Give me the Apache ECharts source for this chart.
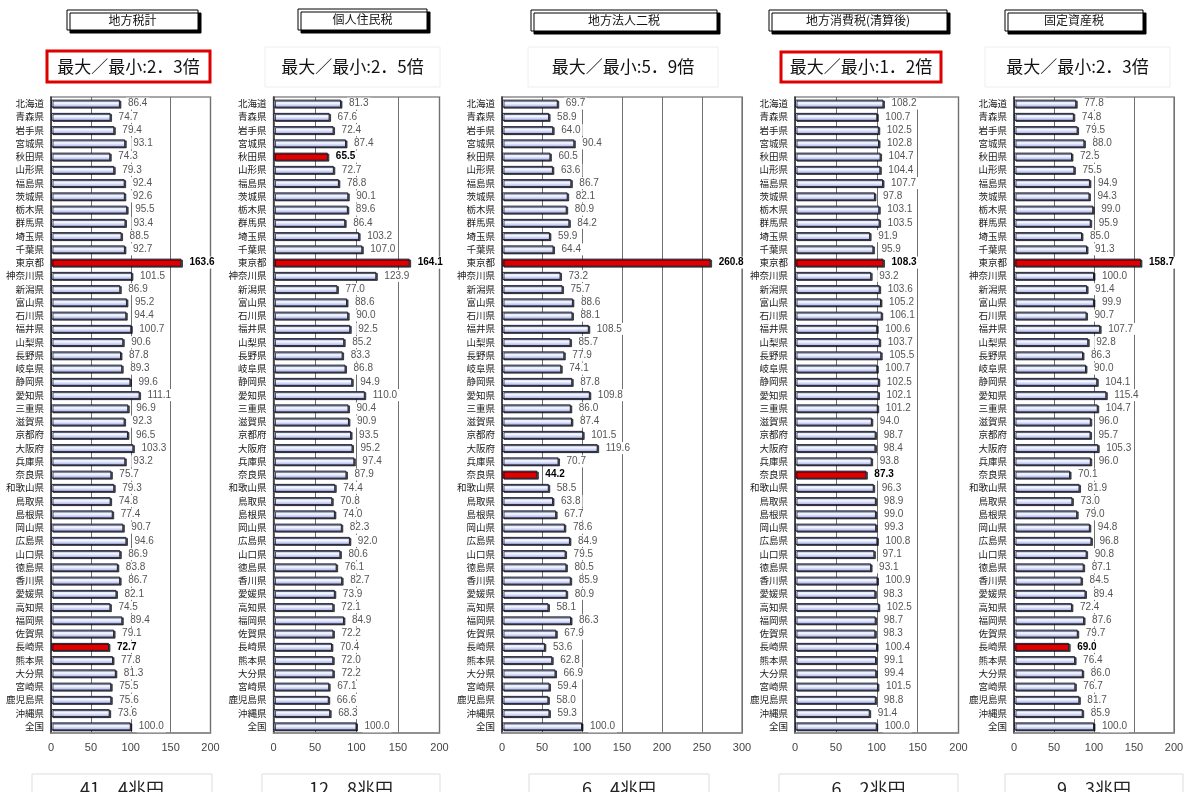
<!DOCTYPE html>
<html>
<head>
<meta charset="utf-8">
<script src="https://cdn.jsdelivr.net/npm/echarts@6/dist/echarts.min.js"></script>
<style>
  html, body { margin: 0; padding: 0; background: #fff; }
  #chart { width: 1191px; height: 792px; }
</style>
</head>
<body>
<div id="chart"></div>
<script>
// 都道府県（47）＋全国
const prefectures = [
  '北海道','青森県','岩手県','宮城県','秋田県','山形県','福島県','茨城県','栃木県','群馬県',
  '埼玉県','千葉県','東京都','神奈川県','新潟県','富山県','石川県','福井県','山梨県','長野県',
  '岐阜県','静岡県','愛知県','三重県','滋賀県','京都府','大阪府','兵庫県','奈良県','和歌山県',
  '鳥取県','島根県','岡山県','広島県','山口県','徳島県','香川県','愛媛県','高知県','福岡県',
  '佐賀県','長崎県','熊本県','大分県','宮崎県','鹿児島県','沖縄県','全国'
];

const panelTitles = ['地方税計', '個人住民税', '地方法人二税', '地方消費税(清算後)', '固定資産税'];
const totalsTrillionYen = ['41.4', '12.8', '6.4', '6.2', '9.3'];
const axisMaxValues = [200, 200, 300, 200, 200];
const tickStep = 50;

// 人口一人当たり税収額の指数（全国＝100）
const localTaxTotal = [
  86.4, 74.7, 79.4, 93.1, 74.3, 79.3, 92.4, 92.6, 95.5, 93.4,
  88.5, 92.7, 163.6, 101.5, 86.9, 95.2, 94.4, 100.7, 90.6, 87.8,
  89.3, 99.6, 111.1, 96.9, 92.3, 96.5, 103.3, 93.2, 75.7, 79.3,
  74.8, 77.4, 90.7, 94.6, 86.9, 83.8, 86.7, 82.1, 74.5, 89.4,
  79.1, 72.7, 77.8, 81.3, 75.5, 75.6, 73.6, 100.0
];
const individualInhabitantTax = [
  81.3, 67.6, 72.4, 87.4, 65.5, 72.7, 78.8, 90.1, 89.6, 86.4,
  103.2, 107.0, 164.1, 123.9, 77.0, 88.6, 90.0, 92.5, 85.2, 83.3,
  86.8, 94.9, 110.0, 90.4, 90.9, 93.5, 95.2, 97.4, 87.9, 74.4,
  70.8, 74.0, 82.3, 92.0, 80.6, 76.1, 82.7, 73.9, 72.1, 84.9,
  72.2, 70.4, 72.0, 72.2, 67.1, 66.6, 68.3, 100.0
];
const corporateTwoTaxes = [
  69.7, 58.9, 64.0, 90.4, 60.5, 63.6, 86.7, 82.1, 80.9, 84.2,
  59.9, 64.4, 260.8, 73.2, 75.7, 88.6, 88.1, 108.5, 85.7, 77.9,
  74.1, 87.8, 109.8, 86.0, 87.4, 101.5, 119.6, 70.7, 44.2, 58.5,
  63.8, 67.7, 78.6, 84.9, 79.5, 80.5, 85.9, 80.9, 58.1, 86.3,
  67.9, 53.6, 62.8, 66.9, 59.4, 58.0, 59.3, 100.0
];
const localConsumptionTax = [
  108.2, 100.7, 102.5, 102.8, 104.7, 104.4, 107.7, 97.8, 103.1, 103.5,
  91.9, 95.9, 108.3, 93.2, 103.6, 105.2, 106.1, 100.6, 103.7, 105.5,
  100.7, 102.5, 102.1, 101.2, 94.0, 98.7, 98.4, 93.8, 87.3, 96.3,
  98.9, 99.0, 99.3, 100.8, 97.1, 93.1, 100.9, 98.3, 102.5, 98.7,
  98.3, 100.4, 99.1, 99.4, 101.5, 98.8, 91.4, 100.0
];
const fixedAssetTax = [
  77.8, 74.8, 79.5, 88.0, 72.5, 75.5, 94.9, 94.3, 99.0, 95.9,
  85.0, 91.3, 158.7, 100.0, 91.4, 99.9, 90.7, 107.7, 92.8, 86.3,
  90.0, 104.1, 115.4, 104.7, 96.0, 95.7, 105.3, 96.0, 70.1, 81.9,
  73.0, 79.0, 94.8, 96.8, 90.8, 87.1, 84.5, 89.4, 72.4, 87.6,
  79.7, 69.0, 76.4, 86.0, 76.7, 81.7, 85.9, 100.0
];

const panelValues = [localTaxTotal, individualInhabitantTax, corporateTwoTaxes, localConsumptionTax, fixedAssetTax];
// 格差倍率を赤枠で強調するパネル
const emphasizedRatio = [true, false, false, true, false];

// ---- layout ----
const plotTop = 97, plotHeight = 636;
const plotLeft = [51, 273.5, 502, 795, 1014];
const plotWidth = [159.5, 166, 240, 163.5, 160];
const titleBox = [[67, 10, 131, 20], [298, 9, 129, 21], [531, 10, 186, 21], [769, 10, 178, 21], [1005, 10, 138, 21]];
const ratioBox = [[47, 51, 163, 31], [265, 47, 175, 40], [528, 47, 190, 40], [781, 52, 160, 30], [985, 47, 185, 40]];
const totalBox = [[32, 774, 180, 30], [262, 774, 178, 30], [529, 774, 180, 30], [779, 774, 179, 30], [1005, 774, 178, 30]];

const fw = s => s.replace('.', '．');

const barFill = new echarts.graphic.LinearGradient(0, 0, 0, 1, [
  { offset: 0, color: '#b8c7f2' },
  { offset: 0.45, color: '#f6f8ff' },
  { offset: 0.8, color: '#bcc3ee' },
  { offset: 1, color: '#9aa5e2' }
]);

const grids = [], xAxes = [], yAxes = [], series = [], graphics = [];

panelValues.forEach((vals, p) => {
  const prefVals = vals.slice(0, 47);
  const maxV = Math.max(...prefVals), minV = Math.min(...prefVals);
  const hiIdx = [prefVals.indexOf(maxV), prefVals.indexOf(minV)];

  grids.push({
    left: plotLeft[p], top: plotTop, width: plotWidth[p], height: plotHeight,
    show: true, borderColor: '#8a8a8a', borderWidth: 1.5, backgroundColor: 'transparent'
  });
  xAxes.push({
    type: 'value', gridIndex: p, min: 0, max: axisMaxValues[p], interval: tickStep,
    axisLine: { show: true, lineStyle: { color: '#8a8a8a', width: 1.5 } },
    axisTick: { show: false },
    splitLine: { show: true, lineStyle: { color: '#707070', width: 1 } },
    axisLabel: { fontSize: 11, color: '#444', margin: 9, fontFamily: 'Liberation Sans' }
  });
  yAxes.push({
    type: 'category', gridIndex: p, data: prefectures, inverse: true,
    axisLine: { show: true, lineStyle: { color: '#333', width: 1.5 } },
    axisTick: { show: false },
    axisLabel: { fontSize: 9.5, color: '#1a1a1a', margin: 7, interval: 0, fontFamily: 'Noto Sans CJK JP' }
  });
  series.push({
    type: 'bar', xAxisIndex: p, yAxisIndex: p, barWidth: 8,
    data: vals.map((v, i) => {
      const hi = hiIdx.includes(i);
      return {
        value: v,
        itemStyle: hi ? { color: '#e00000' } : {},
        label: hi ? { fontWeight: 'bold', color: '#000' } : {}
      };
    }),
    itemStyle: {
      color: barFill, borderColor: '#20203a', borderWidth: 1,
      shadowColor: 'rgba(0,0,0,0.65)', shadowOffsetX: 1.5, shadowOffsetY: 1, shadowBlur: 0
    },
    label: {
      show: true, position: 'right', distance: 6,
      formatter: d => d.value.toFixed(1),
      fontSize: 10, color: '#555', fontFamily: 'Liberation Sans',
      backgroundColor: '#fff', padding: [1, 2]
    },
    animation: false
  });

  // 税目名
  const [tx, ty, tw, th] = titleBox[p];
  graphics.push({
    type: 'rect', shape: { x: tx, y: ty, width: tw, height: th },
    style: { fill: '#fff', stroke: '#000', lineWidth: 1, shadowColor: '#000', shadowOffsetX: 3, shadowOffsetY: 3, shadowBlur: 0 }
  });
  graphics.push({
    type: 'text', x: tx + tw / 2, y: ty + th / 2,
    style: { text: panelTitles[p], textAlign: 'center', textVerticalAlign: 'middle', font: '12px "Noto Sans CJK JP"', fill: '#111' }
  });

  // 最大／最小の倍率
  const [rx, ry, rw, rh] = ratioBox[p];
  graphics.push({
    type: 'rect', shape: { x: rx, y: ry, width: rw, height: rh },
    style: emphasizedRatio[p]
      ? { fill: '#fff', stroke: '#dd0000', lineWidth: 3 }
      : { fill: '#fff', stroke: '#eeeeee', lineWidth: 1 }
  });
  graphics.push({
    type: 'text', x: rx + rw / 2, y: ry + rh / 2,
    style: {
      text: '最大／最小:' + fw((maxV / minV).toFixed(1)) + '倍',
      textAlign: 'center', textVerticalAlign: 'middle', font: '17px "Noto Sans CJK JP"', fill: '#111'
    }
  });

  // 税収総額
  const [bx, by, bw, bh] = totalBox[p];
  graphics.push({
    type: 'rect', shape: { x: bx, y: by, width: bw, height: bh },
    style: { fill: '#fff', stroke: '#dddddd', lineWidth: 1 }
  });
  graphics.push({
    type: 'text', x: bx + bw / 2, y: by + 15,
    style: { text: fw(totalsTrillionYen[p]) + '兆円', textAlign: 'center', textVerticalAlign: 'middle', font: '18px "Noto Sans CJK JP"', fill: '#222' }
  });
});

const chart = echarts.init(document.getElementById('chart'), null, { width: 1191, height: 792 });
chart.setOption({
  animation: false,
  backgroundColor: '#fff',
  grid: grids,
  xAxis: xAxes,
  yAxis: yAxes,
  series: series,
  graphic: graphics
});
</script>
</body>
</html>
